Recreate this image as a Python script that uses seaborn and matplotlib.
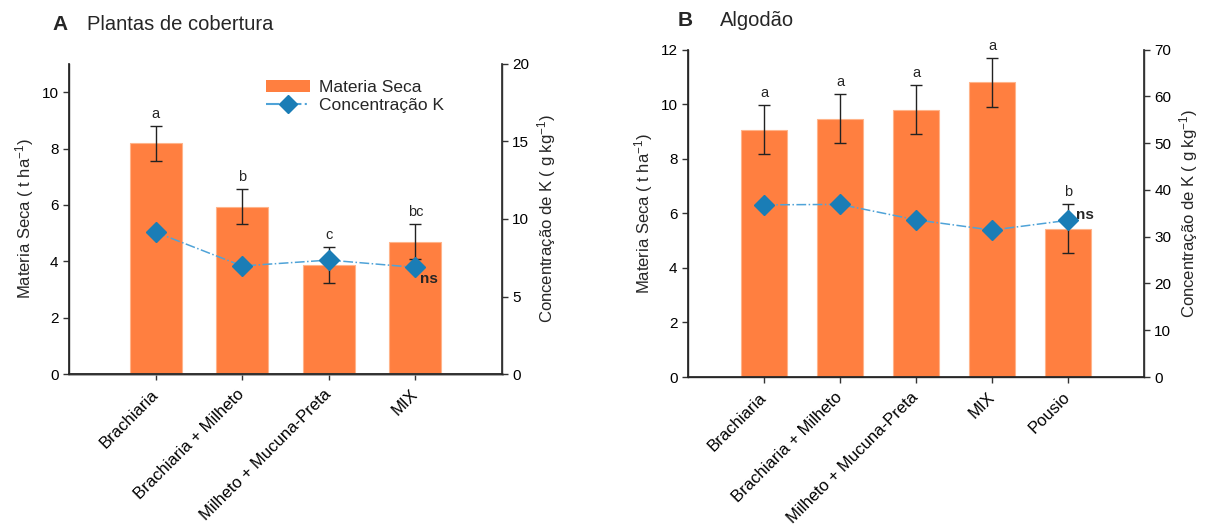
import numpy as np
import pandas as pd
import matplotlib
matplotlib.use('Agg')
import matplotlib.pyplot as plt
import seaborn as sns
from matplotlib.patches import Patch
from matplotlib.lines import Line2D

# Panel A - plantas de cobertura
cats_a = ['Brachiaria', 'Brachiaria + Milheto', 'Milheto + Mucuna-Preta', 'MIX']
ms_a = [8.18, 5.94, 3.87, 4.70]
ms_err_a = [0.63, 0.63, 0.63, 0.63]
k_a = [9.15, 6.97, 7.35, 6.88]
letters_a = ['a', 'b', 'c', 'bc']

# Panel B - algodao
cats_b = ['Brachiaria', 'Brachiaria + Milheto', 'Milheto + Mucuna-Preta', 'MIX', 'Pousio']
ms_b = [9.06, 9.47, 9.79, 10.80, 5.43]
ms_err_b = [0.90, 0.91, 0.90, 0.90, 0.90]
k_b = [36.8, 36.9, 33.6, 31.4, 33.5]
letters_b = ['a', 'a', 'a', 'a', 'b']

BAR = '#FF7F40'
DIAM = '#1A7DB6'
LINE = '#4FA3D8'
SPINE = '#333333'

sns.set_theme(style='white')
plt.rcParams['font.family'] = ['Liberation Sans', 'DejaVu Sans']
plt.rcParams['font.size'] = 12
plt.rcParams['mathtext.fontset'] = 'custom'
plt.rcParams['mathtext.rm'] = 'Liberation Sans'
plt.rcParams['mathtext.default'] = 'regular'


def draw_panel(ax, cats, ms, err, k, letters, ylim, yticks, k_lim, k_ticks, grey_bottom):
    df = pd.DataFrame({'trat': cats, 'ms': ms})
    sns.barplot(data=df, x='trat', y='ms', color=BAR, saturation=1, width=0.6,
                errorbar=None, edgecolor='#FFB48A', linewidth=0.8, ax=ax, zorder=2)
    x = np.arange(len(cats))
    ax.errorbar(x, ms, yerr=err, fmt='none', ecolor='#222222', elinewidth=1.0,
                capsize=4, capthick=1.0, zorder=3)
    for xi, m, e, lab in zip(x, ms, err, letters):
        ax.text(xi, m + e + 0.18, lab, ha='center', va='bottom', fontsize=10.5)
    ax.set_xlim(-1, len(cats))
    ax.set_ylim(*ylim)
    ax.set_yticks(yticks)
    ax.set_xlabel('')
    ax.set_ylabel('Materia Seca ( t ha$^{-1}$)', fontsize=12)
    ax.set_xticks(x)
    ax.set_xticklabels(cats, rotation=45, ha='right', va='center',
                       rotation_mode='anchor', fontsize=12)
    ax.tick_params(axis='both', direction='out', length=4, width=1, colors=SPINE,
                   labelcolor='black', left=True, bottom=True)
    ax.tick_params(axis='x', pad=9)
    ax.spines['top'].set_visible(False)
    for s in ['left', 'right', 'bottom']:
        ax.spines[s].set_color(SPINE)
        ax.spines[s].set_linewidth(1.0)
    if grey_bottom:
        ax.spines['bottom'].set_color('#888888')
        ax.spines['bottom'].set_linewidth(1.8)

    ax2 = ax.twinx()
    ax2.plot(x, k, linestyle='-.', color=LINE, linewidth=1.1, marker='D',
             markersize=10, markerfacecolor=DIAM, markeredgecolor=DIAM, zorder=4)
    ax2.set_ylim(*k_lim)
    ax2.set_yticks(k_ticks)
    ax2.set_ylabel('Concentração de K ( g kg$^{-1}$)', fontsize=12)
    ax2.tick_params(axis='y', direction='out', length=4, width=1, colors=SPINE,
                    labelcolor='black', right=True)
    ax2.spines['top'].set_visible(False)
    ax2.spines['right'].set_color(SPINE)
    ax2.grid(False)
    ax.grid(False)
    return ax2


fig = plt.figure(figsize=(12.21, 5.27), dpi=100)
ax_a = fig.add_axes([0.0565, 0.2903, 0.3546, 0.5883])
ax_b = fig.add_axes([0.5635, 0.2846, 0.3734, 0.6214])

a2 = draw_panel(ax_a, cats_a, ms_a, ms_err_a, k_a, letters_a, (0, 11), range(0, 11, 2),
                (0, 20), range(0, 21, 5), True)
b2 = draw_panel(ax_b, cats_b, ms_b, ms_err_b, k_b, letters_b, (0, 12), range(0, 13, 2),
                (0, 70), range(0, 71, 10), False)

# ns labels next to last K point
a2.text(len(cats_a) - 1 + 0.05, k_a[-1] - 0.75, 'ns', fontsize=11, fontweight='bold', va='center')
b2.text(len(cats_b) - 1 + 0.1, k_b[-1] + 1.2, 'ns', fontsize=11, fontweight='bold', va='center')

handles = [Patch(facecolor=BAR, edgecolor='none', label='Materia Seca'),
           Line2D([0], [0], linestyle='-.', color=LINE, marker='D', markersize=9,
                  markerfacecolor=DIAM, markeredgecolor=DIAM, label='Concentração K')]
a2.legend(handles=handles, loc='upper left', bbox_to_anchor=(0.42, 1.0), frameon=False,
          fontsize=12.5, handlelength=2.5, handletextpad=0.5, labelspacing=0.2)

fig.text(52 / 1221, 1 - 24 / 527, 'A', fontsize=15, fontweight='bold', va='center')
fig.text(87 / 1221, 1 - 24 / 527, 'Plantas de cobertura', fontsize=14.5, va='center')
fig.text(678 / 1221, 1 - 20 / 527, 'B', fontsize=15, fontweight='bold', va='center')
fig.text(720 / 1221, 1 - 20 / 527, 'Algodão', fontsize=14.5, va='center')

fig.savefig('out.png', dpi=100)
